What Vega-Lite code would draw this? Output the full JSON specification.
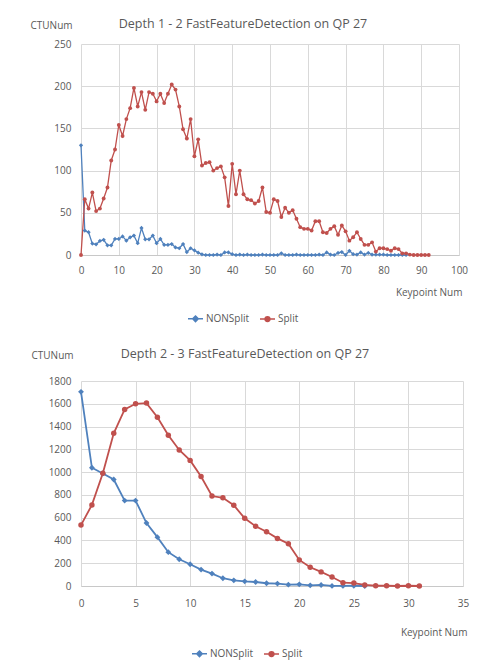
{
  "$schema": "https://vega.github.io/schema/vega-lite/v6.json",
  "background": "white",
  "padding": {"top": 17, "left": 30, "right": 10, "bottom": 2},
  "spacing": 22,
  "datasets": {
    "top": [
      {"k":0,"NONSplit":130,"Split":0},{"k":1,"NONSplit":29,"Split":66},{"k":2,"NONSplit":27,"Split":55},{"k":3,"NONSplit":13.5,"Split":74},{"k":4,"NONSplit":12.7,"Split":52},
      {"k":5,"NONSplit":16.6,"Split":55},{"k":6,"NONSplit":18,"Split":67},{"k":7,"NONSplit":11.5,"Split":80},{"k":8,"NONSplit":11.5,"Split":112},{"k":9,"NONSplit":19,"Split":125},
      {"k":10,"NONSplit":19,"Split":154},{"k":11,"NONSplit":22,"Split":141},{"k":12,"NONSplit":17,"Split":161},{"k":13,"NONSplit":21,"Split":174},{"k":14,"NONSplit":23,"Split":198},
      {"k":15,"NONSplit":14,"Split":176},{"k":16,"NONSplit":32,"Split":193},{"k":17,"NONSplit":18.6,"Split":172},{"k":18,"NONSplit":18.6,"Split":193},{"k":19,"NONSplit":23,"Split":191},
      {"k":20,"NONSplit":14,"Split":182},{"k":21,"NONSplit":19,"Split":191},{"k":22,"NONSplit":12,"Split":180},{"k":23,"NONSplit":12,"Split":191},{"k":24,"NONSplit":13,"Split":202},
      {"k":25,"NONSplit":9,"Split":196},{"k":26,"NONSplit":8,"Split":176},{"k":27,"NONSplit":13,"Split":149},{"k":28,"NONSplit":3.5,"Split":138},{"k":29,"NONSplit":8,"Split":161},
      {"k":30,"NONSplit":5.5,"Split":117},{"k":31,"NONSplit":2.8,"Split":137},{"k":32,"NONSplit":0.8,"Split":106},{"k":33,"NONSplit":0,"Split":109},{"k":34,"NONSplit":0,"Split":110},
      {"k":35,"NONSplit":0,"Split":100},{"k":36,"NONSplit":0.5,"Split":103},{"k":37,"NONSplit":0,"Split":105},{"k":38,"NONSplit":3,"Split":92},{"k":39,"NONSplit":3,"Split":58},
      {"k":40,"NONSplit":1,"Split":108},{"k":41,"NONSplit":0,"Split":72},{"k":42,"NONSplit":0.5,"Split":100},{"k":43,"NONSplit":0,"Split":72},{"k":44,"NONSplit":0.5,"Split":66},
      {"k":45,"NONSplit":0,"Split":65},{"k":46,"NONSplit":0,"Split":61},{"k":47,"NONSplit":0,"Split":64},{"k":48,"NONSplit":0.5,"Split":80},{"k":49,"NONSplit":0,"Split":51},
      {"k":50,"NONSplit":0,"Split":50},{"k":51,"NONSplit":0,"Split":66},{"k":52,"NONSplit":0,"Split":64},{"k":53,"NONSplit":2,"Split":45},{"k":54,"NONSplit":0,"Split":56},
      {"k":55,"NONSplit":0,"Split":50},{"k":56,"NONSplit":0,"Split":53},{"k":57,"NONSplit":0.5,"Split":43},{"k":58,"NONSplit":0,"Split":33},{"k":59,"NONSplit":0,"Split":31},
      {"k":60,"NONSplit":0,"Split":31},{"k":61,"NONSplit":0,"Split":29},{"k":62,"NONSplit":0,"Split":40},{"k":63,"NONSplit":0.5,"Split":40},{"k":64,"NONSplit":0,"Split":27},
      {"k":65,"NONSplit":3,"Split":26},{"k":66,"NONSplit":0.5,"Split":31},{"k":67,"NONSplit":0,"Split":34},{"k":68,"NONSplit":2.5,"Split":24},{"k":69,"NONSplit":3.5,"Split":35},
      {"k":70,"NONSplit":0,"Split":28},{"k":71,"NONSplit":5,"Split":17},{"k":72,"NONSplit":1,"Split":21},{"k":73,"NONSplit":0.5,"Split":27},{"k":74,"NONSplit":3,"Split":19},
      {"k":75,"NONSplit":0.5,"Split":12},{"k":76,"NONSplit":2.5,"Split":12},{"k":77,"NONSplit":0.5,"Split":15},{"k":78,"NONSplit":0.5,"Split":4},{"k":79,"NONSplit":0.5,"Split":8},
      {"k":80,"NONSplit":0.5,"Split":8},{"k":81,"NONSplit":0,"Split":7},{"k":82,"NONSplit":0,"Split":5},{"k":83,"NONSplit":0,"Split":8},{"k":84,"NONSplit":0,"Split":7},
      {"k":85,"NONSplit":0,"Split":2},{"k":86,"NONSplit":0,"Split":2},{"k":87,"Split":0.5},{"k":88,"Split":0},{"k":89,"Split":0},
      {"k":90,"Split":0},{"k":91,"Split":0},{"k":92,"Split":0}
    ],
    "bottom": [
      {"k":0,"NONSplit":1705,"Split":535},{"k":1,"NONSplit":1038,"Split":712},{"k":2,"NONSplit":988,"Split":990},{"k":3,"NONSplit":935,"Split":1341},
      {"k":4,"NONSplit":750,"Split":1550},{"k":5,"NONSplit":750,"Split":1600},{"k":6,"NONSplit":553,"Split":1606},{"k":7,"NONSplit":429,"Split":1482},
      {"k":8,"NONSplit":297,"Split":1324},{"k":9,"NONSplit":235,"Split":1194},{"k":10,"NONSplit":191,"Split":1103},{"k":11,"NONSplit":144,"Split":962},
      {"k":12,"NONSplit":109,"Split":790},{"k":13,"NONSplit":68,"Split":774},{"k":14,"NONSplit":50,"Split":709},{"k":15,"NONSplit":41,"Split":594},
      {"k":16,"NONSplit":35,"Split":524},{"k":17,"NONSplit":24,"Split":476},{"k":18,"NONSplit":21,"Split":418},{"k":19,"NONSplit":12,"Split":371},
      {"k":20,"NONSplit":15,"Split":229},{"k":21,"NONSplit":6,"Split":165},{"k":22,"NONSplit":9,"Split":124},{"k":23,"NONSplit":1,"Split":79},
      {"k":24,"NONSplit":1,"Split":29},{"k":25,"NONSplit":2,"Split":26},{"k":26,"NONSplit":0,"Split":9},{"k":27,"Split":2},
      {"k":28,"Split":2},{"k":29,"Split":0},{"k":30,"Split":2},{"k":31,"Split":0}
    ]
  },
  "vconcat": [
    {
      "width": 378,
      "height": 211,
      "data": {"name": "top"},
      "transform": [{"fold": ["NONSplit", "Split"], "as": ["series", "v"]}, {"filter": "datum.v != null"}],
      "title": {"text": "Depth 1 - 2 FastFeatureDetection on QP 27", "dx": -27, "dy": 14},
      "encoding": {
        "x": {"field": "k", "type": "quantitative", "scale": {"domain": [0, 100], "nice": false},
          "axis": {"values": [0,10,20,30,40,50,60,70,80,90,100], "labelFlush": false, "title": "Keypoint Num", "titleAlign": "right", "titleBaseline": "middle", "titleX": 381, "titleY": 37, "labelPadding": 10}},
        "y": {"field": "v", "type": "quantitative", "scale": {"domain": [0, 250], "nice": false},
          "axis": {"values": [0,50,100,150,200,250], "title": "CTUNum", "titleAngle": 0, "titleAlign": "left", "titleBaseline": "middle", "titleX": -51, "titleY": -19, "labelPadding": 10}},
        "color": {"field": "series", "type": "nominal", "scale": {"domain": ["NONSplit", "Split"], "range": ["#4F81BD", "#C0504D"]},
          "legend": {"orient": "none", "legendX": 106, "legendY": 266, "direction": "horizontal", "title": null, "symbolSize": 225, "symbolStrokeWidth": 1.5, "labelFontSize": 10, "labelColor": "#595959", "columnPadding": 7, "labelOffset": 2,
            "encode": {"symbols": {"update": {
              "shape": {"signal": "datum.value === 'NONSplit' ? 'M-1,0H1M0,-0.37L0.37,0L0,0.37L-0.37,0Z' : 'M-1,0H1M0.32,0A0.32,0.32,0,1,1,-0.32,0A0.32,0.32,0,1,1,0.32,0Z'"},
              "fill": {"signal": "datum.value === 'NONSplit' ? '#4F81BD' : '#C0504D'"},
              "stroke": {"signal": "datum.value === 'NONSplit' ? '#4F81BD' : '#C0504D'"}}}}}}
      },
      "layer": [
        {"mark": {"type": "line", "strokeWidth": 1.3}},
        {"transform": [{"filter": "datum.series === 'NONSplit'"}], "mark": {"type": "point", "shape": "diamond", "filled": true, "size": 18, "opacity": 1}},
        {"transform": [{"filter": "datum.series === 'Split'"}], "mark": {"type": "point", "shape": "circle", "filled": true, "size": 15, "opacity": 1}}
      ]
    },
    {
      "width": 382,
      "height": 205,
      "data": {"name": "bottom"},
      "transform": [{"fold": ["NONSplit", "Split"], "as": ["series", "v"]}, {"filter": "datum.v != null"}],
      "title": {"text": "Depth 2 - 3 FastFeatureDetection on QP 27", "dx": -27, "dy": 14},
      "encoding": {
        "x": {"field": "k", "type": "quantitative", "scale": {"domain": [0, 35], "nice": false},
          "axis": {"values": [0,5,10,15,20,25,30,35], "labelFlush": false, "title": "Keypoint Num", "titleAlign": "right", "titleBaseline": "middle", "titleX": 386, "titleY": 46, "labelPadding": 12}},
        "y": {"field": "v", "type": "quantitative", "scale": {"domain": [0, 1800], "nice": false},
          "axis": {"values": [0,200,400,600,800,1000,1200,1400,1600,1800], "format": "d", "title": "CTUNum", "titleAngle": 0, "titleAlign": "left", "titleBaseline": "middle", "titleX": -50, "titleY": -26, "labelPadding": 10}},
        "color": {"field": "series", "type": "nominal", "scale": {"domain": ["NONSplit", "Split"], "range": ["#4F81BD", "#C0504D"]},
          "legend": {"orient": "none", "legendX": 110, "legendY": 264, "direction": "horizontal", "title": null, "symbolSize": 225, "symbolStrokeWidth": 1.5, "labelFontSize": 10, "labelColor": "#595959", "columnPadding": 7, "labelOffset": 2,
            "encode": {"symbols": {"update": {
              "shape": {"signal": "datum.value === 'NONSplit' ? 'M-1,0H1M0,-0.37L0.37,0L0,0.37L-0.37,0Z' : 'M-1,0H1M0.32,0A0.32,0.32,0,1,1,-0.32,0A0.32,0.32,0,1,1,0.32,0Z'"},
              "fill": {"signal": "datum.value === 'NONSplit' ? '#4F81BD' : '#C0504D'"},
              "stroke": {"signal": "datum.value === 'NONSplit' ? '#4F81BD' : '#C0504D'"}}}}}}
      },
      "layer": [
        {"mark": {"type": "line", "strokeWidth": 1.8}},
        {"transform": [{"filter": "datum.series === 'NONSplit'"}], "mark": {"type": "point", "shape": "diamond", "filled": true, "size": 34, "opacity": 1}},
        {"transform": [{"filter": "datum.series === 'Split'"}], "mark": {"type": "point", "shape": "circle", "filled": true, "size": 30, "opacity": 1}}
      ]
    }
  ],
  "resolve": {"scale": {"x": "independent", "y": "independent"}, "legend": {"color": "independent"}},
  "config": {
    "font": "Open Sans",
    "view": {"stroke": null},
    "axis": {"labelColor": "#595959", "titleColor": "#595959", "labelFontSize": 10, "titleFontSize": 10, "titleFontWeight": "normal", "gridColor": "#d9d9d9", "gridWidth": 1, "ticks": false, "domain": false},
    "axisX": {"domain": true, "domainColor": "#c8c8c8"},
    "title": {"fontSize": 12.5, "fontWeight": "normal", "color": "#595959", "anchor": "middle", "frame": "group"}
  }
}
